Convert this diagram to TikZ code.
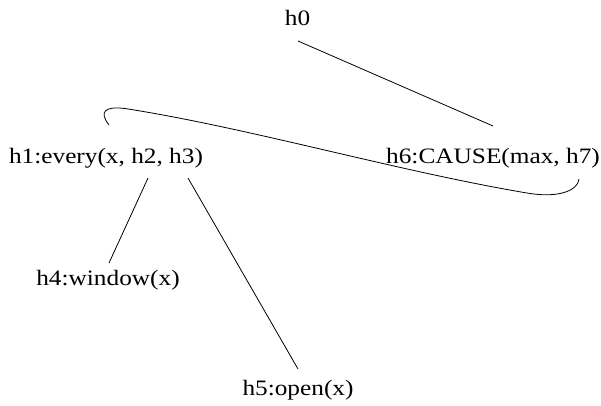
\documentclass[tikz,border=0pt]{standalone}
\usepackage{fontspec}
\setmainfont[FakeStretch=1.15]{Liberation Serif}
\begin{document}
\begin{tikzpicture}[x=1pt,y=-1pt,
  lbl/.style={inner sep=0pt,anchor=base,font=\fontsize{22}{26}\selectfont},
  edge/.style={line width=0.8pt}]
\useasboundingbox (0,0) rectangle (601,405);
\node[lbl] (h0) at (297.5,25) {h0};
\node[lbl] (h1) at (106,163) {h1:every(x, h2, h3)};
\node[lbl] (h6) at (493,163) {h6:CAUSE(max, h7)};
\node[lbl] (h4) at (108,285) {h4:window(x)};
\node[lbl] (h5) at (298,395) {h5:open(x)};
\coordinate (a0) at (298,41);
\coordinate (a6) at (493,126);
\coordinate (b1) at (148,178);
\coordinate (b4) at (109,263);
\coordinate (c1) at (188,178);
\coordinate (c5) at (298,369);
\coordinate (q1) at (109,125);
\coordinate (q6) at (579,179);
\draw[edge] (a0) -- (a6);
\draw[edge] (b1) -- (b4);
\draw[edge] (c1) -- (c5);
\draw[edge] (q1) .. controls (99,112) and (104,106) .. (125,108.5)
  .. controls (250,128) and (400,172) .. (530,193.5)
  .. controls (560,198) and (578,190) .. (q6);
\end{tikzpicture}
\end{document}
